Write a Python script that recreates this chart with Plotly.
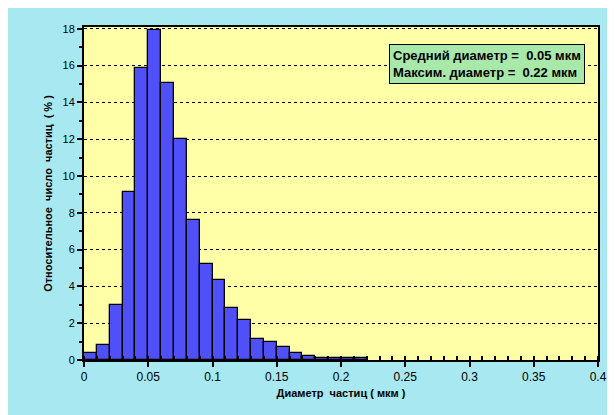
import plotly.graph_objects as go

bin_left = [0.00,0.01,0.02,0.03,0.04,0.05,0.06,0.07,0.08,0.09,0.10,0.11,0.12,0.13,0.14,0.15,0.16,0.17,0.18,0.19,0.20,0.21]
percent = [0.36,0.84,3.0,9.15,15.85,17.95,15.05,12.0,7.6,5.2,4.35,2.85,2.2,1.12,1.0,0.68,0.36,0.2,0.09,0.09,0.09,0.09]
x_ticks = [0,0.05,0.1,0.15,0.2,0.25,0.3,0.35,0.4]
x_labels = ["0","0.05","0.1","0.15","0.2","0.25","0.3","0.35","0.4"]
y_ticks = [0,2,4,6,8,10,12,14,16,18]
bw = 0.01

font = dict(family="Liberation Sans, Arial", size=12, color="black")
fig = go.Figure(go.Bar(
    x=[b + bw/2 for b in bin_left], y=percent, width=bw,
    marker=dict(color="#5050f8", line=dict(color="black", width=1.3)),
    hoverinfo="skip"))
fig.update_layout(
    width=615, height=415, margin=dict(l=76, r=25, t=19, b=63),
    paper_bgcolor="#a8e8f0", plot_bgcolor="#ffffa8", showlegend=False,
    font=font, bargap=0,
    xaxis=dict(range=[0,0.4], tickvals=x_ticks, ticktext=x_labels, showgrid=False,
               automargin=False,
               ticks="outside", ticklen=5, tickwidth=2, tickcolor="black",
               minor=dict(dtick=0.01, ticks="inside", ticklen=4, tickcolor="black"),
               showline=True, linecolor="black", linewidth=2, mirror=True, zeroline=False,
               title=dict(text="<b>Диаметр  частиц ( мкм )</b>", standoff=6, font=dict(size=11)),
               tickfont=dict(size=12, family="Liberation Sans", color="black"),
               tickprefix="<b>", ticksuffix="</b>"),
    yaxis=dict(range=[0,18.1], tickvals=y_ticks, showgrid=True, gridcolor="black",
               automargin=False,
               griddash="dot", gridwidth=1, ticks="outside", ticklen=5, tickwidth=2,
               tickcolor="black",
               minor=dict(dtick=1, ticks="outside", ticklen=3, tickcolor="black", showgrid=False),
               showline=True, linecolor="black", linewidth=2, mirror=True, zeroline=False,
               title=dict(text="<b>Относительное  число  частиц  ( % )</b>", standoff=8, font=dict(size=11)),
               tickfont=dict(size=11),
               tickprefix="<b>", ticksuffix="</b>"),
)
fig.add_annotation(xref="paper", yref="paper", x=0.975, y=0.95, xanchor="right", yanchor="top",
    text="<b>Средний диаметр =  0.05 мкм<br>Максим. диаметр =  0.22 мкм</b>",
    showarrow=False, align="left", bgcolor="#a8e8a8", bordercolor="black", borderwidth=1,
    borderpad=3, font=dict(family="Liberation Sans", size=13, color="black"))
fig.write_html("out.html")
